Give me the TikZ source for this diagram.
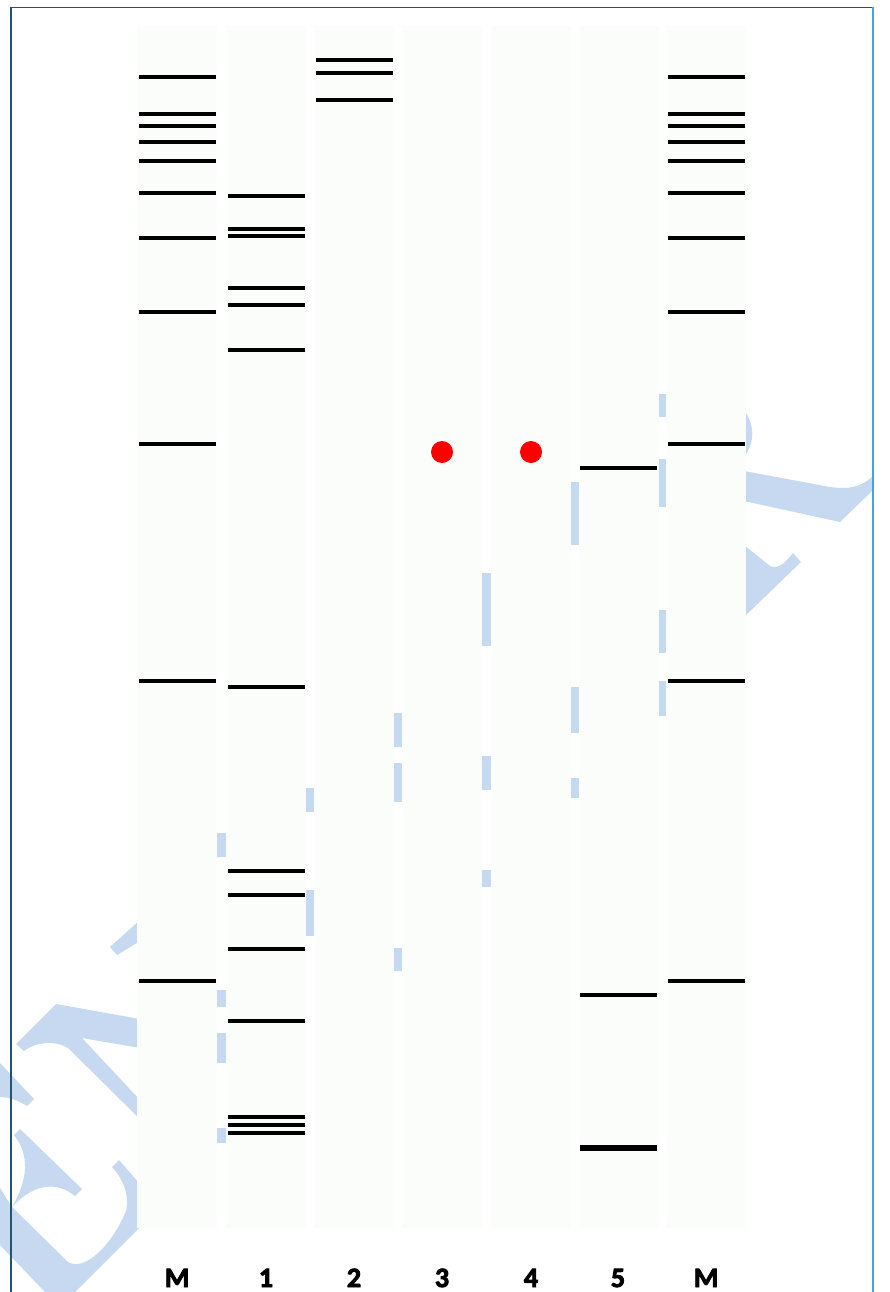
\documentclass[tikz,border=0pt]{standalone}
\usepackage{fontspec}
\setmainfont{Carlito}
\newfontfamily\lblfont{Carlito}[FakeBold=3]
\definecolor{wm}{HTML}{C6D9F0}
\definecolor{lanebg}{HTML}{FBFDFB}
\definecolor{borderdark}{HTML}{24536E}
\definecolor{borderlight}{HTML}{45A5DD}
\tikzset{
  band/.style={line width=4pt, black},
  thickband/.style={line width=5.5pt, black},
  lanebox/.style={fill=lanebg, draw=none},
  lbl/.style={anchor=base, font=\lblfont\fontsize{28}{30}\selectfont\bfseries, inner sep=0pt},
  spot/.style={circle, fill=red, draw=none, minimum size=22pt, inner sep=0pt},
  wmark/.style={fill=wm, draw=none}
}
\begin{document}
\begin{tikzpicture}[x=1pt,y=-1pt]
\useasboundingbox (0,0) rectangle (889,1292);
\fill[white] (0,0) rectangle (889,1292);
% watermark pieces
\fill[wmark] (16,1044) -- (56,1004) -- (140,1019) -- (140,1048) -- (82,1038) -- (140,1100) -- (140,1119) -- (68,1048) .. controls (55,1040) and (35,1042) .. (24,1051) -- cycle;
\fill[wmark] (0,1063) -- (34,1099) -- (27,1106) .. controls (18,1100) and (8,1097) .. (0,1097) -- cycle;
\fill[wmark] (20,1129) -- (82,1189) -- (75,1196) .. controls (58,1182) and (35,1182) .. (12,1207) .. controls (28,1180) and (30,1155) .. (14,1135) -- cycle;
\fill[wmark] (0,1188) -- (12,1207) -- (68,1262) .. controls (85,1272) and (112,1245) .. (126,1211) .. controls (130,1195) and (122,1177) .. (112,1167) -- (119,1160) -- (140,1184) -- (140,1227) -- (75,1292) -- (45,1292) -- (0,1245) -- cycle;
\fill[wmark] (110,947) -- (140,920) -- (140,941) -- (117,955) -- cycle;
\fill[wmark] (744,410) .. controls (755,425) and (755,442) .. (744,457) -- cycle;
\fill[wmark] (744,471) -- (830,487) .. controls (850,490) and (862,486) .. (872,477) -- (873,478) -- (873,490) -- (840,522) -- (744,501) -- cycle;
\fill[wmark] (744,545) -- (770,566) .. controls (778,570) and (786,562) .. (793,553) -- (801,562) -- (744,617) -- cycle;
% watermark visible in lane gaps
\foreach \a/\b in {833/857, 990/1007, 1033/1063, 1128/1143}
  \fill[wmark] (215,\a) rectangle (228,\b);
\foreach \a/\b in {788/812, 890/936}
  \fill[wmark] (304,\a) rectangle (316,\b);
\foreach \a/\b in {713/747, 763/802, 948/971}
  \fill[wmark] (393,\a) rectangle (404,\b);
\foreach \a/\b in {573/646, 756/790, 870/887}
  \fill[wmark] (481,\a) rectangle (492,\b);
\foreach \a/\b in {482/545, 687/733, 778/798}
  \fill[wmark] (569,\a) rectangle (580,\b);
\foreach \a/\b in {394/417, 459/507, 610/653, 681/716}
  \fill[wmark] (657,\a) rectangle (668,\b);
% lanes
\foreach \x [count=\i] in {137,225.5,314,402,490.5,578.5,666}
  \fill[lanebox] (\x,26) rectangle ++(80,1202);
% marker lanes
\foreach \x in {139,668}
  \foreach \y in {77,114,126,142,161,193,238,312,444,681,981}
    \draw[band] (\x,\y) -- ++(77,0);
% lane 1
\foreach \y in {196,229,236,288,305,350,687,871,895,949,1021,1117,1125,1133}
  \draw[band] (228,\y) -- ++(77,0);
% lane 2
\foreach \y in {60,73,100}
  \draw[band] (316,\y) -- ++(77,0);
% lane 5
\foreach \y in {468,995}
  \draw[band] (580,\y) -- ++(77,0);
\draw[thickband] (580,1148) -- ++(77,0);
% spots in lanes 3 and 4
\node[spot] (s3) at (442,452) {};
\node[spot] (s4) at (531,452) {};
% labels
\node[lbl] (lM1) at (177,1287) {M};
\node[lbl] (l1) at (266,1287) {1};
\node[lbl] (l2) at (354,1287) {2};
\node[lbl] (l3) at (442,1287) {3};
\node[lbl] (l4) at (531,1287) {4};
\node[lbl] (l5) at (618,1287) {5};
\node[lbl] (lM2) at (706,1287) {M};
% border
\draw[borderdark, line width=1.6pt] (11,1292) -- (11,7.5) -- (873,7.5);
\draw[borderlight, line width=1.8pt] (873,7) -- (873,1292);
\end{tikzpicture}
\end{document}
